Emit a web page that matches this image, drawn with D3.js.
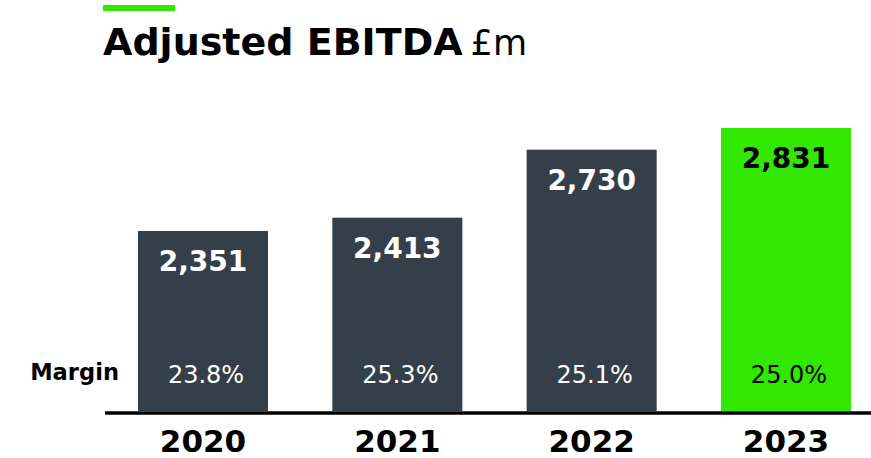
<!DOCTYPE html>
<html>
<head>
<meta charset="utf-8">
<script src="https://cdn.jsdelivr.net/npm/d3@7"></script>
<style>
  html, body { margin: 0; padding: 0; background: #ffffff; }
  svg { display: block; }
  text { font-family: "DejaVu Sans", Verdana, sans-serif; }
</style>
</head>
<body>
<svg id="chart" width="871" height="458"></svg>
<script>
const years = ["2020", "2021", "2022", "2023"];
const ebitda = [2351, 2413, 2730, 2831];
const ebitdaLabels = ["2,351", "2,413", "2,730", "2,831"];
const margins = ["23.8%", "25.3%", "25.1%", "25.0%"];
const highlight = [false, false, false, true];

const DARK = "#343f4a";
const GREEN = "#33e800";

const svg = d3.select("#chart");
const baseY = 411;

const x = d3.scaleBand().domain(years).range([138, 851]).paddingInner(0.331).paddingOuter(0);
const y = d3.scaleLinear().domain([1512, 2831]).range([baseY, 128]);

// Title
svg.append("rect").attr("x", 103).attr("y", 5).attr("width", 72).attr("height", 6).attr("fill", GREEN);
const title = svg.append("text").attr("x", 103).attr("y", 55).attr("font-size", 38).attr("fill", "#000");
title.append("tspan").attr("font-weight", "bold").text("Adjusted EBITDA");
title.append("tspan").attr("font-weight", "normal").attr("font-size", 35).attr("dx", 8).text("£m");

const data = years.map((yr, i) => ({ yr, v: ebitda[i], lab: ebitdaLabels[i], m: margins[i], hl: highlight[i] }));

const g = svg.append("g");
g.selectAll("rect.bar").data(data).join("rect")
  .attr("class", "bar")
  .attr("x", d => x(d.yr))
  .attr("width", x.bandwidth())
  .attr("y", d => y(d.v))
  .attr("height", d => baseY - y(d.v))
  .attr("fill", d => d.hl ? GREEN : DARK);

g.selectAll("text.val").data(data).join("text")
  .attr("class", "val")
  .attr("x", d => x(d.yr) + x.bandwidth() / 2)
  .attr("y", d => y(d.v) + 40)
  .attr("text-anchor", "middle")
  .attr("font-size", 28)
  .attr("font-weight", "bold")
  .attr("fill", d => d.hl ? "#000" : "#fff")
  .text(d => d.lab);

g.selectAll("text.margin").data(data).join("text")
  .attr("class", "margin")
  .attr("x", d => x(d.yr) + x.bandwidth() / 2 + 3)
  .attr("y", 383)
  .attr("text-anchor", "middle")
  .attr("font-size", 24)
  .attr("fill", d => d.hl ? "#000" : "#fff")
  .text(d => d.m);

svg.append("text").attr("x", 119).attr("y", 380).attr("text-anchor", "end")
  .attr("font-size", 22.6).attr("font-weight", "bold").attr("fill", "#000").text("Margin");

// Axis
const axis = d3.axisBottom(x).tickSize(0).tickPadding(0);
const ax = svg.append("g").attr("transform", `translate(0,${baseY + 2})`).call(axis);
ax.select(".domain").attr("d", "M105,0H871").attr("stroke", "#000").attr("stroke-width", 3.5);
ax.selectAll(".tick text")
  .attr("y", 39)
  .attr("dy", null)
  .attr("font-size", 31)
  .attr("font-weight", "bold")
  .attr("font-family", "DejaVu Sans, Verdana, sans-serif")
  .attr("fill", "#000");
</script>
</body>
</html>
